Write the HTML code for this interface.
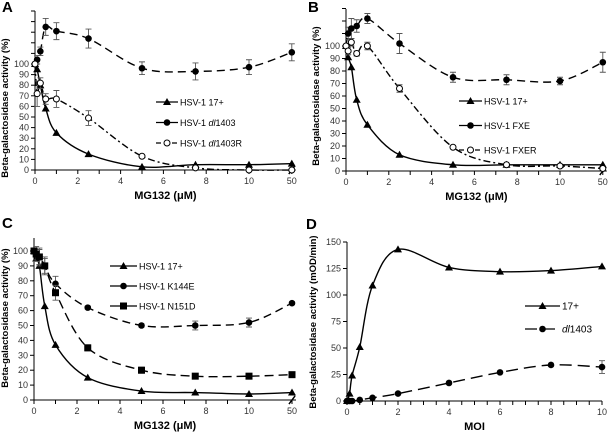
<!DOCTYPE html>
<html><head><meta charset="utf-8"><style>
html,body{margin:0;padding:0;background:#fff}
svg{display:block;font-family:"Liberation Sans",Arial,sans-serif}
</style></head><body>
<svg id="fig" width="608" height="432" viewBox="0 0 608 432"></svg>
<script>
// Panel A data
const xA = [0,0.1,0.25,0.5,1,2.5,5,7.5,10,50];
const a17 = [100,95,80,58,35,15,3,5,5,6];
const aDl = [100,104,112,135,131,124,96,93,97,111];
const aDlErr = [0,4,4,8,8,9,6,8,7,8];
const aDlR = [100,72,82,67,67,49,13,2,0,0];
const aDlRErr = [0,12,5,5,8,7,1,1,1,1];
// Panel B data
const xB = [0,0.1,0.25,0.5,1,2.5,5,7.5,10,50];
const b17 = [100,91,83,57,37,13,5,5,5,5];
const bFxe = [100,110,114,116,122,102,75,73,72,87];
const bFxeErr = [0,5,8,5,4,8,4,4,3,8];
const bFxer = [100,96,103,94,100,66,19,5,4,2];
const bFxerErr = [0,3,3,2,3,3,1,1,1,1];
// Panel C data
const xC = [0,0.1,0.25,0.5,1,2.5,5,7.5,10,50];
const c17 = [100,95,90,63,37,15,6,5,4,5];
const cK = [100,98,96,90,78,62,50,50,52,65];
const cKErr = [0,5,6,5,5,1,1,3,3,1];
const cN = [100,98,96,90,72,35,20,16,16,17];
const cNErr = [0,4,5,6,5,2,2,1,1,1];
// Panel D data
const xD = [0,0.1,0.2,0.5,1,2,4,6,8,10];
const d17 = [0,7,24,51,109,143,126,122,123,127];
const dDl = [0,0,0,1,3,7,17,27,34,32];
const dDlErr = [0,0,0,0,0,0,0,0,0,6];
const yTicksMG = [0,10,20,30,40,50,60,70,80,90,100];
const xTicksMG = [0,2,4,6,8,10];
const yTicksD = [0,25,50,75,100,125,150];
const xTicksD = [0,2,4,6,8,10];

const svg = document.getElementById('fig');
const NS = 'http://www.w3.org/2000/svg';
function mk(tag, attrs, parent){const e=document.createElementNS(NS,tag);for(const k in attrs)e.setAttribute(k,attrs[k]);(parent||svg).appendChild(e);return e;}
function spline(pts){
  let d='M'+pts[0][0].toFixed(1)+','+pts[0][1].toFixed(1);
  for(let i=0;i<pts.length-1;i++){
    const p0=pts[Math.max(0,i-1)],p1=pts[i],p2=pts[i+1],p3=pts[Math.min(pts.length-1,i+2)];
    const t=0.16*3/3;
    const c1=[p1[0]+(p2[0]-p0[0])/6,p1[1]+(p2[1]-p0[1])/6];
    const c2=[p2[0]-(p3[0]-p1[0])/6,p2[1]-(p3[1]-p1[1])/6];
    d+=` C${c1[0].toFixed(1)},${c1[1].toFixed(1)} ${c2[0].toFixed(1)},${c2[1].toFixed(1)} ${p2[0].toFixed(1)},${p2[1].toFixed(1)}`;
  }
  return d;
}
function marker(g,type,x,y,name){
  let m;
  if(type==='tri') m=mk('polygon',{points:`${x},${y-4} ${x-4},${y+3} ${x+4},${y+3}`,fill:'#000'},g);
  else if(type==='dot') m=mk('circle',{cx:x,cy:y,r:3.3,fill:'#000'},g);
  else if(type==='open') m=mk('circle',{cx:x,cy:y,r:3,fill:'#fff',stroke:'#000','stroke-width':1},g);
  else if(type==='sq') m=mk('rect',{x:x-3.5,y:y-3.5,width:7,height:7,fill:'#000'},g);
  
  
}
function panel(cfg){
  const g=mk('g',{});  
  const sx=v=>cfg.x0+cfg.kx*(cfg.brk && v>10 ? 12 : v);
  const sy=v=>cfg.y0-cfg.ky*v;
  // letter
  const L=mk('text',{x:cfg.lx,y:cfg.ly,'font-size':15,'font-weight':'bold'},g); L.textContent=cfg.letter;
   
  // y axis
  const ya=mk('line',{x1:cfg.x0,y1:cfg.y0,x2:cfg.x0,y2:cfg.ytop,stroke:'#000','stroke-width':1},g);
   
  for(let v=cfg.yTicks[0]; sy(v)>=cfg.ytop-0.5; v+=cfg.ystep){
    mk('line',{x1:cfg.x0-4,y1:sy(v),x2:cfg.x0,y2:sy(v),stroke:'#000'},g);
    if(cfg.yTicks.includes(v)){
      const t=mk('text',{x:cfg.x0-6,y:sy(v)+3,'font-size':9,'text-anchor':'end',fill:'#333'},g); t.textContent=v;
       
    }
  }
  // x axis
  const xr=cfg.brk? sx(50)+4 : sx(10);
  if(cfg.brk){
    mk('line',{x1:cfg.x0,y1:cfg.y0,x2:sx(10.9),y2:cfg.y0,stroke:'#000'},g);
    mk('line',{x1:sx(11.1),y1:cfg.y0,x2:xr,y2:cfg.y0,stroke:'#000'},g);
    mk('line',{x1:sx(10.8)-3,y1:cfg.y0+4,x2:sx(10.8)+3,y2:cfg.y0-4,stroke:'#000','stroke-width':1.3},g);
    mk('line',{x1:sx(11.2)-3,y1:cfg.y0+4,x2:sx(11.2)+3,y2:cfg.y0-4,stroke:'#000','stroke-width':1.3},g);
  } else mk('line',{x1:cfg.x0,y1:cfg.y0,x2:xr,y2:cfg.y0,stroke:'#000'},g);
  for(let v=0;v<=10;v+=cfg.xminor) mk('line',{x1:sx(v),y1:cfg.y0,x2:sx(v),y2:cfg.y0+4,stroke:'#000'},g);
  const xl=cfg.xTicks.concat(cfg.brk?[50]:[]);
  xl.forEach(v=>{
    if(v===50) mk('line',{x1:sx(v),y1:cfg.y0,x2:sx(v),y2:cfg.y0+4,stroke:'#000'},g);
    const t=mk('text',{x:sx(v),y:cfg.y0+14,'font-size':9,'text-anchor':'middle',fill:'#333'},g); t.textContent=v;
     
  });
  const xt=mk('text',{x:(cfg.x0+xr)/2,y:cfg.y0+29,'font-size':11,'font-weight':'bold','text-anchor':'middle'},g);
  xt.textContent=cfg.xlabel;  
  const yt=mk('text',{x:0,y:0,'font-size':9.5,'font-weight':'bold','text-anchor':'middle',transform:`translate(${cfg.ylx},${cfg.yly}) rotate(-90)`},g);
  yt.textContent=cfg.ylabel;  
  // series
  cfg.series.forEach((s,si)=>{
    const sg=mk('g',{},g);  
    const pts=s.y.map((v,i)=>[sx(cfg.xs[i]),sy(v)]);
    const p=mk('path',{d:spline(pts),fill:'none',stroke:'#000','stroke-width':1.4,'stroke-dasharray':s.dash||'none'},sg);
     
    if(s.err) s.err.forEach((e,i)=>{ if(e>0){
      const x=sx(cfg.xs[i]);
      mk('path',{d:`M${x},${sy(s.y[i]+e)}V${sy(s.y[i]-e)}M${x-3},${sy(s.y[i]+e)}h6M${x-3},${sy(s.y[i]-e)}h6`,stroke:'#555','stroke-width':0.9,fill:'none'},sg);
    }});
    pts.forEach(q=>marker(sg,s.m,q[0],q[1],'point-'+s.id));
    // legend
    const ly=cfg.leg[1]+si*cfg.leg[3];
    mk('line',{x1:cfg.leg[0],y1:ly,x2:cfg.leg[0]+cfg.leg[2],y2:ly,stroke:'#000','stroke-width':1.3,'stroke-dasharray':s.ldash||'none'},g);
    marker(g,s.m,cfg.leg[0]+cfg.leg[2]*0.5,ly,'legend-marker');
    const t=mk('text',{x:cfg.leg[0]+cfg.leg[2]+2,y:ly+3.5,'font-size':cfg.lfs||9},g);
    t.innerHTML=s.label;  
  });
}
const MGlab='MG132 (\u03bcM)', BLab='Beta-galactosidase activity (%)';
panel({name:'panel-a',letter:'A',lx:2,ly:12,x0:35,y0:170,kx:21.4,ky:1.06,ytop:11,ystep:10,yTicks:yTicksMG,xTicks:xTicksMG,xminor:1,brk:true,xs:xA,
  xlabel:MGlab,ylabel:BLab,ylx:8,yly:108,leg:[156,102,22,20.5],
  series:[{id:'17plus',y:a17,m:'tri'},{id:'dl1403',y:aDl,err:aDlErr,m:'dot',dash:'8,5',ldash:'none'},{id:'dl1403R',y:aDlR,err:aDlRErr,m:'open',dash:'7,3,2,3',ldash:'5,3'}]
    .map((s,i)=>Object.assign(s,{label:['HSV-1 17+','HSV-1 <tspan font-style="italic">dl</tspan>1403','HSV-1 <tspan font-style="italic">dl</tspan>1403R'][i]}))});
panel({name:'panel-b',letter:'B',lx:308,ly:12,x0:346,y0:171,kx:21.4,ky:1.25,ytop:9,ystep:10,yTicks:yTicksMG,xTicks:xTicksMG,xminor:1,brk:true,xs:xB,
  xlabel:MGlab,ylabel:BLab,ylx:319,yly:96,leg:[459,101,23,24.5],
  series:[{id:'17plus',y:b17,m:'tri',label:'HSV-1 17+'},{id:'fxe',y:bFxe,err:bFxeErr,m:'dot',dash:'8,5',label:'HSV-1 FXE'},{id:'fxer',y:bFxer,err:bFxerErr,m:'open',dash:'7,3,2,3',ldash:'5,3',label:'HSV-1 FXER'}]});
panel({name:'panel-c',letter:'C',lx:2,ly:228,x0:34,y0:400,kx:21.5,ky:1.49,ytop:238,ystep:10,yTicks:yTicksMG,xTicks:xTicksMG,xminor:1,brk:true,xs:xC,
  xlabel:MGlab,ylabel:BLab,ylx:8,yly:318,leg:[110,266,27,20],
  series:[{id:'17plus',y:c17,m:'tri',label:'HSV-1 17+'},{id:'k144e',y:cK,err:cKErr,m:'dot',dash:'8,5',ldash:'none',label:'HSV-1 K144E'},{id:'n151d',y:cN,err:cNErr,m:'sq',dash:'9,5',ldash:'none',label:'HSV-1 N151D'}]});
panel({name:'panel-d',letter:'D',lx:306,ly:229,x0:347,y0:401,kx:25.5,ky:1.06,ytop:242,ystep:25,yTicks:yTicksD,xTicks:xTicksD,xminor:0.5,brk:false,xs:xD,
  xlabel:'MOI',ylabel:'Beta-galactosidase activity  (mOD/min)',ylx:316,yly:322,leg:[525,306,35,23],lfs:10,
  series:[{id:'17plus',y:d17,m:'tri',label:'17+'},{id:'dl1403',y:dDl,err:dDlErr,m:'dot',dash:'12,6',ldash:'12,6',label:'<tspan font-style="italic">dl</tspan>1403'}]});
</script>
</body></html>
